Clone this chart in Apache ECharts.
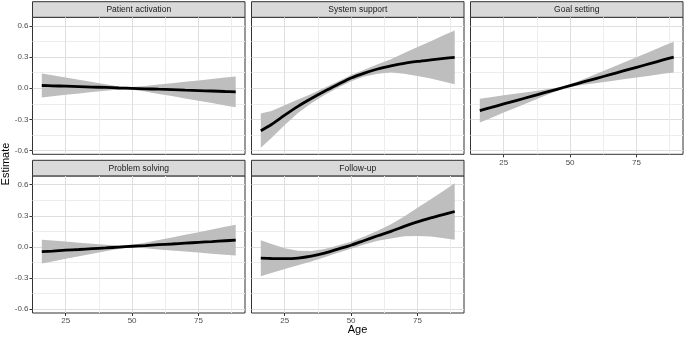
<!DOCTYPE html>
<html lang="en">
<head>
<meta charset="UTF-8">
<title>Estimate by age</title>
<script src="https://cdn.jsdelivr.net/npm/echarts@6.0.0/dist/echarts.min.js"></script>
<style>
  html, body { margin: 0; padding: 0; background: #fff; }
  #main { width: 685px; height: 339px; }
</style>
</head>
<body>
<div id="main"></div>
<script>
// data
const ages = [16, 20, 25, 30, 35, 40, 45, 50, 55, 60, 65, 70, 75, 80, 85, 89];
const panelNames = ['Patient activation', 'System support', 'Goal setting', 'Problem solving', 'Follow-up'];
const xTicks = [25, 50, 75];
const xMinor = [37.5, 62.5, 87.5];
const yTicks = [-0.6, -0.3, 0, 0.3, 0.6];
const yMinor = [-0.45, -0.15, 0.15, 0.45];

const patientFit  = [0.026, 0.023, 0.019, 0.015, 0.011, 0.007, 0.002, -0.002, -0.006, -0.010, -0.014, -0.019, -0.023, -0.027, -0.032, -0.036];
const patientLow  = [-0.089, -0.078, -0.064, -0.051, -0.037, -0.024, -0.013, -0.015, -0.033, -0.055, -0.076, -0.099, -0.121, -0.143, -0.166, -0.184];
const patientHigh = [0.141, 0.124, 0.102, 0.081, 0.059, 0.038, 0.017, 0.011, 0.021, 0.035, 0.048, 0.061, 0.075, 0.089, 0.102, 0.112];

const supportFit  = [-0.41, -0.35, -0.26, -0.175, -0.1, -0.03, 0.035, 0.098, 0.145, 0.185, 0.215, 0.24, 0.258, 0.273, 0.287, 0.297];
const supportLow  = [-0.575, -0.48, -0.355, -0.24, -0.145, -0.065, 0.005, 0.068, 0.113, 0.14, 0.15, 0.14, 0.118, 0.093, 0.062, 0.037];
const supportHigh = [-0.245, -0.22, -0.165, -0.11, -0.055, 0.005, 0.065, 0.128, 0.177, 0.23, 0.28, 0.34, 0.398, 0.453, 0.512, 0.557];

const goalFit  = [-0.216, -0.188, -0.152, -0.117, -0.082, -0.046, -0.011, 0.024, 0.060, 0.095, 0.130, 0.166, 0.201, 0.236, 0.272, 0.300];
const goalLow  = [-0.331, -0.289, -0.235, -0.183, -0.130, -0.077, -0.026, 0.011, 0.033, 0.050, 0.068, 0.086, 0.103, 0.120, 0.138, 0.152];
const goalHigh = [-0.101, -0.087, -0.069, -0.051, -0.034, -0.015, 0.004, 0.037, 0.087, 0.140, 0.192, 0.246, 0.299, 0.352, 0.406, 0.448];

const problemFit  = [-0.046, -0.040, -0.032, -0.025, -0.017, -0.010, -0.002, 0.006, 0.013, 0.021, 0.028, 0.036, 0.044, 0.051, 0.059, 0.065];
const problemLow  = [-0.161, -0.141, -0.115, -0.091, -0.065, -0.041, -0.017, -0.007, -0.014, -0.024, -0.034, -0.044, -0.054, -0.065, -0.075, -0.083];
const problemHigh = [0.069, 0.061, 0.051, 0.041, 0.031, 0.021, 0.013, 0.019, 0.040, 0.066, 0.090, 0.116, 0.142, 0.167, 0.193, 0.213];

const followFit  = [-0.109, -0.112, -0.113, -0.108, -0.09, -0.06, -0.022, 0.016, 0.062, 0.107, 0.15, 0.197, 0.241, 0.279, 0.314, 0.341];
const followLow  = [-0.283, -0.252, -0.213, -0.178, -0.14, -0.10, -0.057, -0.017, 0.024, 0.059, 0.082, 0.102, 0.106, 0.099, 0.084, 0.068];
const followHigh = [0.065, 0.028, -0.013, -0.038, -0.04, -0.02, 0.013, 0.049, 0.100, 0.155, 0.218, 0.292, 0.376, 0.459, 0.544, 0.614];

const fits  = [patientFit, supportFit, goalFit, problemFit, followFit];
const lows  = [patientLow, supportLow, goalLow, problemLow, followLow];
const highs = [patientHigh, supportHigh, goalHigh, problemHigh, followHigh];

// layout (facet grid 3 x 2)
const colLeft = [32.5, 251.5, 470.5];
const rowTop = [17.3, 176];
const panelW = 212.5, panelH = 137;
const stripTop = [1.7, 160.3], stripH = 15.6;
const FONT = 'Liberation Sans, Arial, sans-serif';

let chart = echarts.init(document.getElementById('main'));

let grids = [], xAxes = [], yAxes = [], series = [], graphics = [];

panelNames.forEach(function (name, k) {
    let col = k % 3, row = Math.floor(k / 3);
    let showX = (row === 1) || (col === 2);
    let showY = col === 0;

    grids.push({
        left: colLeft[col], top: rowTop[row], width: panelW, height: panelH,
        show: true, borderColor: '#333333', borderWidth: 1, backgroundColor: '#fff'
    });

    // major x
    xAxes.push({
        type: 'value', gridIndex: k, min: 12.5, max: 92.5, position: 'bottom',
        axisLine: { show: false, onZero: false },
        axisTick: { show: showX, length: 3, customValues: xTicks, lineStyle: { color: '#333333' } },
        axisLabel: { show: showX, customValues: xTicks, color: '#4D4D4D', fontSize: 8, fontFamily: FONT, margin: 4 },
        splitLine: { show: true, lineStyle: { color: '#DEDEDE', width: 1 } }
    });
    // minor x
    xAxes.push({
        type: 'value', gridIndex: k, min: 12.5, max: 92.5, position: 'bottom',
        axisLine: { show: false, onZero: false },
        axisTick: { show: false, customValues: xMinor },
        axisLabel: { show: false, customValues: xMinor },
        splitLine: { show: true, lineStyle: { color: '#EDEDED', width: 1 } }
    });
    // major y
    yAxes.push({
        type: 'value', gridIndex: k, min: -0.637, max: 0.683, position: 'left',
        axisLine: { show: false, onZero: false },
        axisTick: { show: showY, length: 3, customValues: yTicks, lineStyle: { color: '#333333' } },
        axisLabel: {
            show: showY, customValues: yTicks, color: '#4D4D4D', fontSize: 8, fontFamily: FONT, margin: 4,
            formatter: function (v) { return v.toFixed(1); }
        },
        splitLine: { show: true, lineStyle: { color: '#DEDEDE', width: 1 } }
    });
    // minor y
    yAxes.push({
        type: 'value', gridIndex: k, min: -0.637, max: 0.683, position: 'left',
        axisLine: { show: false, onZero: false },
        axisTick: { show: false, customValues: yMinor },
        axisLabel: { show: false, customValues: yMinor },
        splitLine: { show: true, lineStyle: { color: '#EDEDED', width: 1 } }
    });

    let lo = lows[k], hi = highs[k];
    // confidence band
    series.push({
        type: 'custom', xAxisIndex: 2 * k, yAxisIndex: 2 * k, z: 3, silent: true,
        data: [[ages[0], lo[0]]],
        renderItem: function (params, api) {
            let up = ages.map(function (a, i) { return api.coord([a, hi[i]]); });
            let dn = ages.map(function (a, i) { return api.coord([a, lo[i]]); }).reverse();
            return { type: 'polygon', shape: { points: up.concat(dn) }, style: { fill: '#BEBEBE' } };
        }
    });
    // fitted line
    series.push({
        type: 'line', xAxisIndex: 2 * k, yAxisIndex: 2 * k, z: 5, silent: true,
        data: ages.map(function (a, i) { return [a, fits[k][i]]; }),
        smooth: 0.3, symbol: 'none',
        lineStyle: { color: '#000', width: 2.8 }
    });

    // facet strip
    graphics.push({
        type: 'rect', silent: true,
        shape: { x: colLeft[col], y: stripTop[row], width: panelW, height: stripH },
        style: { fill: '#D9D9D9', stroke: '#333333', lineWidth: 1 }
    });
    graphics.push({
        type: 'text', silent: true,
        x: colLeft[col] + panelW / 2, y: stripTop[row] + stripH / 2 + 0.5,
        style: { text: name, fill: '#1A1A1A', font: '8.5px ' + FONT, align: 'center', verticalAlign: 'middle' }
    });
});

graphics.push({
    type: 'text', silent: true, x: 6, y: 164, rotation: Math.PI / 2,
    style: { text: 'Estimate', fill: '#000', font: '11px ' + FONT, align: 'center', verticalAlign: 'middle' }
});
graphics.push({
    type: 'text', silent: true, x: 357.5, y: 330,
    style: { text: 'Age', fill: '#000', font: '11px ' + FONT, align: 'center', verticalAlign: 'middle' }
});

chart.setOption({
    animation: false,
    grid: grids,
    xAxis: xAxes,
    yAxis: yAxes,
    series: series,
    graphic: graphics
});
</script>
</body>
</html>
